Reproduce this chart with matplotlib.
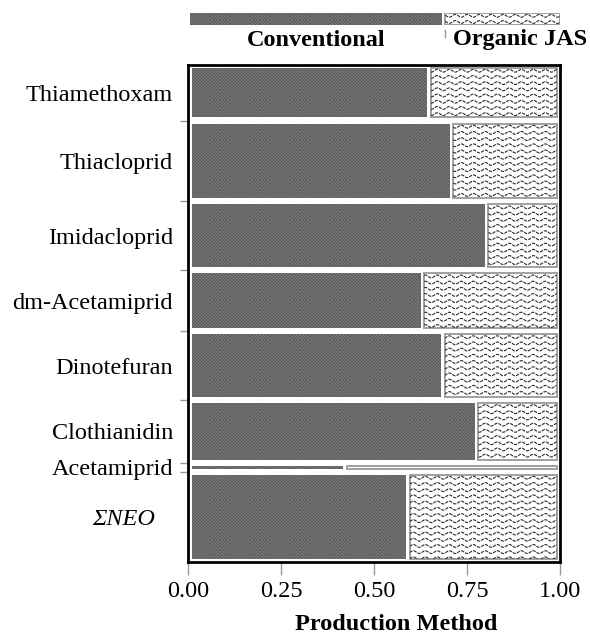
import numpy as np
import matplotlib.pyplot as plt
from matplotlib.patches import Rectangle

compounds = ["Thiamethoxam", "Thiacloprid", "Imidacloprid", "dm-Acetamiprid",
             "Dinotefuran", "Clothianidin", "Acetamiprid", "ΣNEO"]
# relative number of samples per compound (row heights of the mosaic)
row_weight = [49.6, 74.3, 62.6, 54.4, 62.4, 56.7, 2.4, 84.0]
# share of conventional samples within each compound
conventional_share = [0.648, 0.708, 0.803, 0.630, 0.685, 0.776, 0.422, 0.591]
methods = ["Conventional", "Organic JAS"]
overall_conventional = 0.687
x_ticks = [0.0, 0.25, 0.5, 0.75, 1.0]
x_labels = ["0.00", "0.25", "0.50", "0.75", "1.00"]

GAP = 6.2      # vertical gap between rows (y units ~ px)
PAD = 2.7      # space between frame and first/last row
XGAP = 0.0045  # half gap between the two tiles of a row
XL, XR = 0.009, 0.991

CONV = dict(facecolor="#7c7c7c", edgecolor="#5c5c5c", linewidth=0, hatch="xxxxxxxxxx")
ORG = dict(facecolor="white", edgecolor="#a0a0a0", linewidth=1.4)

plt.rcParams["font.family"] = ["Liberation Serif", "DejaVu Serif"]
plt.rcParams["hatch.linewidth"] = 0.5


def add_waves(ax, rect, px_x, px_y):
    """Wavy texture for organic tiles, clipped to the tile."""
    x0, y0 = rect.get_x(), rect.get_y()
    w, h = rect.get_width(), rect.get_height()
    xs = np.linspace(x0, x0 + w, 300)
    for row in np.arange(y0 + 3 / px_y, y0 + h, 6.2 / px_y):
        ys = row + 1.4 / px_y * np.sin(2 * np.pi * (xs * px_x) / 12.0)
        line, = ax.plot(xs, ys, color="#2a2a2a", lw=0.8, ls=(0, (3, 1)))
        line.set_clip_path(rect)


fig = plt.figure(figsize=(5.9, 6.35), dpi=100)

# main mosaic
ax = fig.add_axes([188.3 / 590, (635 - 561.7) / 635, 371.7 / 590, 496.7 / 635])
total = sum(row_weight) + GAP * (len(row_weight) - 1) + 2 * PAD
ax.set_xlim(0, 1)
ax.set_ylim(total, 0)
px_x = 371.7
px_y = 496.7 / total

y = PAD
centers, bounds = [], []
for name, h, share in zip(compounds, row_weight, conventional_share):
    c = Rectangle((XL, y), share - XGAP - XL, h, **CONV)
    ax.add_patch(c)
    o = Rectangle((share + XGAP, y), XR - share - XGAP, h, **ORG)
    ax.add_patch(o)
    add_waves(ax, o, px_x, px_y)
    centers.append(y + h / 2)
    y += h
    bounds.append(y + GAP / 2)
    y += GAP
bounds = bounds[:-1]

ax.set_yticks(bounds)
ax.set_yticklabels([])
ax.set_yticks(centers, minor=True)
ax.set_yticklabels([n + ("   " if n == "ΣNEO" else "") for n in compounds],
                   minor=True, fontsize=17.5)
ax.get_yticklabels(minor=True)[-1].set_fontstyle("italic")
ax.tick_params(axis="y", which="major", length=6, width=1, color="#999999")
ax.tick_params(axis="y", which="minor", length=0, pad=11)

ax.set_xticks(x_ticks)
ax.set_xticklabels(x_labels, fontsize=17.5)
ax.tick_params(axis="x", length=9, width=1, color="#999999", pad=5)

for s in ax.spines.values():
    s.set_linewidth(2)
    s.set_color("black")

fig.text(396.5 / 590, (635 - 624) / 635, "Production Method", fontsize=17.5,
         fontweight="bold", ha="center", va="center")

# top marginal bar acting as legend
top = fig.add_axes([188.3 / 590, (635 - 25) / 635, 371.7 / 590, 12.5 / 635])
top.set_xlim(0, 1)
top.set_ylim(0, 1)
top.axis("off")
tc = Rectangle((0.005, 0), overall_conventional - 0.005 - XGAP, 1, **CONV)
top.add_patch(tc)
to = Rectangle((overall_conventional + XGAP, 0), 1 - overall_conventional - XGAP, 1, **ORG)
top.add_patch(to)
add_waves(top, to, px_x, 12.5)
top.plot([overall_conventional + XGAP] * 2, [-0.4, -0.95], color="#999999",
         lw=1, clip_on=False)

top.text(overall_conventional / 2, -1.2, methods[0], fontsize=17.5,
         fontweight="bold", ha="center", va="center")
top.text(overall_conventional + 0.024, -1.2, methods[1], fontsize=17.5,
         fontweight="bold", ha="left", va="center")

fig.savefig("out.png", dpi=100)
